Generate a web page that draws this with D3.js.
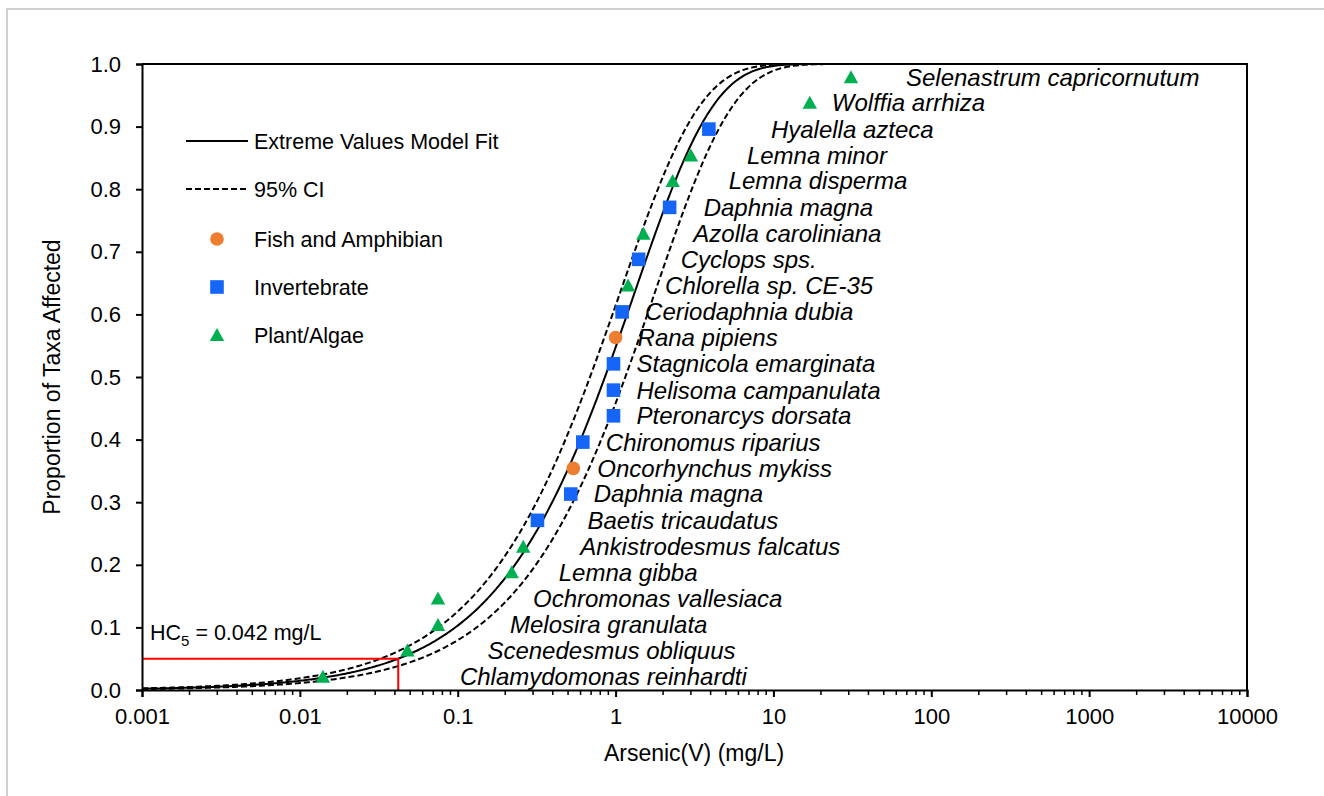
<!DOCTYPE html>
<html>
<head>
<meta charset="utf-8">
<script src="https://cdn.jsdelivr.net/npm/d3@7"></script>
<style>
  html, body { margin: 0; padding: 0; background: #fff; }
  svg { display: block; font-family: "Liberation Sans", Arial, sans-serif; }
</style>
</head>
<body>
<svg id="chart" width="1324" height="796"></svg>
<script>
// Species sensitivity distribution for Arsenic(V)
const species = [
  "Chlamydomonas reinhardti", "Scenedesmus obliquus", "Melosira granulata",
  "Ochromonas vallesiaca", "Lemna gibba", "Ankistrodesmus falcatus",
  "Baetis tricaudatus", "Daphnia magna", "Oncorhynchus mykiss",
  "Chironomus riparius", "Pteronarcys dorsata", "Helisoma campanulata",
  "Stagnicola emarginata", "Rana pipiens", "Ceriodaphnia dubia",
  "Chlorella sp. CE-35", "Cyclops sps.", "Azolla caroliniana",
  "Daphnia magna", "Lemna disperma", "Lemna minor", "Hyalella azteca",
  "Wolffia arrhiza", "Selenastrum capricornutum"
];
const groups = [
  "Plant/Algae", "Plant/Algae", "Plant/Algae", "Plant/Algae", "Plant/Algae",
  "Plant/Algae", "Invertebrate", "Invertebrate", "Fish and Amphibian",
  "Invertebrate", "Invertebrate", "Invertebrate", "Invertebrate",
  "Fish and Amphibian", "Invertebrate", "Plant/Algae", "Invertebrate",
  "Plant/Algae", "Invertebrate", "Plant/Algae", "Plant/Algae",
  "Invertebrate", "Plant/Algae", "Plant/Algae"
];
// Toxicity values, mg/L
const concentrations = [
  0.014, 0.048, 0.075, 0.075, 0.22, 0.26, 0.32, 0.52, 0.54, 0.62, 0.97, 0.97,
  0.97, 1.0, 1.1, 1.2, 1.4, 1.5, 2.2, 2.3, 3.0, 3.9, 17, 31
];
// Plotting positions (proportion of taxa affected)
const proportions = [
  0.021, 0.063, 0.104, 0.146, 0.188, 0.229, 0.271, 0.313, 0.354, 0.396,
  0.438, 0.479, 0.521, 0.563, 0.604, 0.646, 0.688, 0.729, 0.771, 0.813,
  0.854, 0.896, 0.938, 0.979
];
// Horizontal gap (px) between each marker and its species label
const labelGaps = [
  137, 80, 72, 95, 47, 57, 50, 23, 24, 23, 23, 23, 23, 22, 23, 37, 42, 50,
  34, 56, 56, 62, 22, 55
];

// Extreme value model: F(x) = 1 - exp(-exp((log10 x - mu) / sigma))
const fitParams = { mu: 0.117, sigma: 0.503 };
const ciUpperParams = { mu: 0.025, sigma: 0.51 };
const ciLowerParams = { mu: 0.245, sigma: 0.5 };
const hc5Value = 0.042;
const hc5Level = 0.05;

const xTickValues = [0.001, 0.01, 0.1, 1, 10, 100, 1000, 10000];
const xTickLabels = ["0.001", "0.01", "0.1", "1", "10", "100", "1000", "10000"];
const yTickValues = [0, 0.1, 0.2, 0.3, 0.4, 0.5, 0.6, 0.7, 0.8, 0.9, 1.0];
const legendItems = ["Extreme Values Model Fit", "95% CI", "Fish and Amphibian", "Invertebrate", "Plant/Algae"];

const colors = {
  "Fish and Amphibian": "#ED7D31",
  "Invertebrate": "#1565F7",
  "Plant/Algae": "#00B050"
};

const svg = d3.select("#chart");

// outer frame
svg.append("rect")
  .attr("x", 7).attr("y", 9).attr("width", 1330).attr("height", 800)
  .attr("fill", "none").attr("stroke", "#d0d0d0").attr("stroke-width", 2);

const plot = { left: 142, right: 1247, top: 64, bottom: 690 };

const x = d3.scaleLog().domain([0.001, 10000]).range([plot.left, plot.right]);
const y = d3.scaleLinear().domain([0, 1]).range([plot.bottom, plot.top]);

const defs = svg.append("defs");
defs.append("clipPath").attr("id", "plotClip")
  .append("rect")
  .attr("x", plot.left).attr("y", plot.top - 1)
  .attr("width", plot.right - plot.left).attr("height", plot.bottom - plot.top + 1);

// model curves
function evCdf(v, p) {
  return 1 - Math.exp(-Math.exp((Math.log10(v) - p.mu) / p.sigma));
}
const curveXs = d3.range(-3, 1.6, 0.01).map(e => Math.pow(10, e));
const line = d3.line().x(d => x(d[0])).y(d => y(d[1]));

const curves = svg.append("g").attr("clip-path", "url(#plotClip)");
[[ciUpperParams, "6,3"], [ciLowerParams, "6,3"], [fitParams, null]].forEach(([p, dash]) => {
  curves.append("path")
    .datum(curveXs.map(v => [v, evCdf(v, p)]))
    .attr("d", line)
    .attr("fill", "none")
    .attr("stroke", "#000")
    .attr("stroke-width", 2)
    .attr("stroke-dasharray", dash);
});

// HC5 guide lines
svg.append("path")
  .attr("d", `M${x(0.001)},${y(hc5Level)}H${x(hc5Value)}V${y(0)}`)
  .attr("fill", "none").attr("stroke", "#FF0000").attr("stroke-width", 2);

const hcText = svg.append("text")
  .attr("x", 150).attr("y", 640)
  .attr("font-size", 21.5).attr("fill", "#000");
hcText.append("tspan").text("HC");
hcText.append("tspan").attr("font-size", 15).attr("dy", 6).text("5");
hcText.append("tspan").attr("dy", -6).text(" = 0.042 mg/L");

// plot frame (top and right)
svg.append("path")
  .attr("d", `M${plot.left},${plot.top}H${plot.right}V${plot.bottom}`)
  .attr("fill", "none").attr("stroke", "#000").attr("stroke-width", 2);

// x axis
const xAxis = d3.axisBottom(x)
  .tickValues(xTickValues)
  .tickFormat((d, i) => xTickLabels[i])
  .tickSize(7).tickPadding(11);
const gx = svg.append("g").attr("transform", `translate(0,${plot.bottom})`).call(xAxis);
gx.select(".domain").attr("stroke", "#000").attr("stroke-width", 2);
gx.selectAll(".tick line").attr("stroke", "#000").attr("stroke-width", 2);
gx.selectAll(".tick text").attr("font-size", 22).attr("fill", "#000")
  .attr("font-family", "Liberation Sans, Arial, sans-serif");

// minor ticks
const minorVals = [];
for (let e = -3; e < 4; e++) for (let m = 2; m <= 9; m++) minorVals.push(m * Math.pow(10, e));
svg.append("g").selectAll("line").data(minorVals).join("line")
  .attr("x1", d => x(d)).attr("x2", d => x(d))
  .attr("y1", plot.bottom).attr("y2", plot.bottom + 5)
  .attr("stroke", "#000").attr("stroke-width", 1.5);

// y axis
const yAxis = d3.axisLeft(y)
  .tickValues(yTickValues)
  .tickFormat(d3.format(".1f"))
  .tickSize(6).tickPadding(15);
const gy = svg.append("g").attr("transform", `translate(${plot.left},0)`).call(yAxis);
gy.select(".domain").attr("stroke", "#000").attr("stroke-width", 2);
gy.selectAll(".tick line").attr("stroke", "#000").attr("stroke-width", 2);
gy.selectAll(".tick text").attr("font-size", 22).attr("fill", "#000")
  .attr("font-family", "Liberation Sans, Arial, sans-serif");

// axis titles
svg.append("text")
  .attr("x", 694).attr("y", 761)
  .attr("text-anchor", "middle").attr("font-size", 23)
  .text("Arsenic(V) (mg/L)");
svg.append("text")
  .attr("transform", "translate(60,377) rotate(-90)")
  .attr("text-anchor", "middle").attr("font-size", 23)
  .text("Proportion of Taxa Affected");

// marker shapes
function drawMarker(sel, group, cx, cy) {
  const c = colors[group];
  if (group === "Fish and Amphibian") {
    sel.append("circle").attr("cx", cx).attr("cy", cy).attr("r", 6.8).attr("fill", c);
  } else if (group === "Invertebrate") {
    sel.append("rect").attr("x", cx - 6.8).attr("y", cy - 6.8)
      .attr("width", 13.6).attr("height", 13.6).attr("fill", c);
  } else {
    sel.append("path")
      .attr("d", `M${cx},${cy - 7}L${cx + 7.2},${cy + 6}L${cx - 7.2},${cy + 6}Z`)
      .attr("fill", c);
  }
}

// data points and labels
const pts = svg.append("g");
concentrations.forEach((v, i) => {
  drawMarker(pts, groups[i], x(v), y(proportions[i]));
});
const labels = svg.append("g");
concentrations.forEach((v, i) => {
  labels.append("text")
    .attr("x", x(v) + labelGaps[i])
    .attr("y", y(proportions[i]))
    .attr("dy", "0.35em")
    .attr("font-size", 24)
    .attr("font-style", "italic")
    .attr("fill", "#000")
    .text(species[i]);
});

// legend
const lg = svg.append("g");
const legendY = [141, 189, 239, 287, 335];
lg.append("line").attr("x1", 186).attr("x2", 248).attr("y1", legendY[0]).attr("y2", legendY[0])
  .attr("stroke", "#000").attr("stroke-width", 2);
lg.append("line").attr("x1", 186).attr("x2", 248).attr("y1", legendY[1]).attr("y2", legendY[1])
  .attr("stroke", "#000").attr("stroke-width", 2).attr("stroke-dasharray", "6,3");
drawMarker(lg, "Fish and Amphibian", 217, legendY[2]);
drawMarker(lg, "Invertebrate", 217, legendY[3]);
drawMarker(lg, "Plant/Algae", 217, legendY[4]);
legendItems.forEach((t, i) => {
  lg.append("text").attr("x", 254).attr("y", legendY[i]).attr("dy", "0.35em")
    .attr("font-size", 21.5).attr("fill", "#000").text(t);
});
</script>
</body>
</html>
